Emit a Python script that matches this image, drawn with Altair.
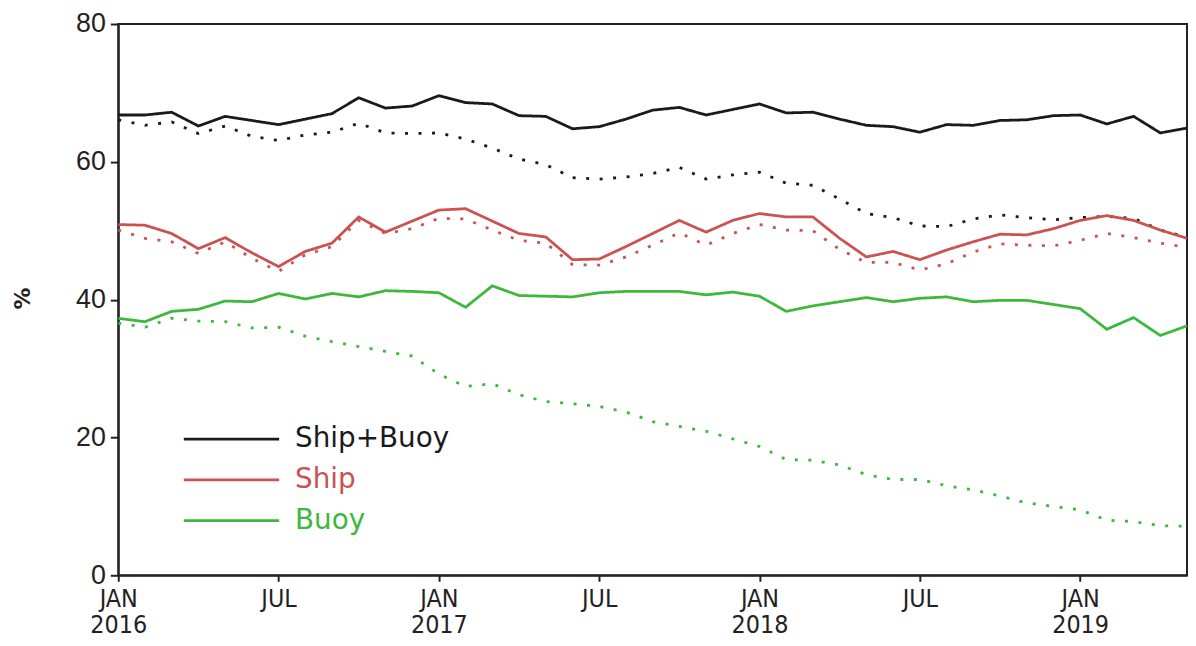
import altair as alt
import pandas as pd

# Monthly index: 0 = JAN 2016 ... 40 = MAY 2019
months = list(range(41))

series_names = ["Ship+Buoy", "Ship", "Buoy"]
series_colors = ["#1a1a1a", "#cc5252", "#3db83d"]
kinds = ["solid", "dotted"]

ship_buoy_solid = [66.8, 66.8, 67.2, 65.2, 66.6, 66.0, 65.4, 66.2, 67.0, 69.3,
                   67.8, 68.1, 69.6, 68.6, 68.4, 66.7, 66.6, 64.8, 65.1, 66.2,
                   67.5, 67.9, 66.8, 67.6, 68.4, 67.1, 67.2, 66.2, 65.3, 65.1,
                   64.3, 65.4, 65.3, 66.0, 66.1, 66.7, 66.8, 65.5, 66.6, 64.2,
                   64.9]
ship_buoy_dotted = [66.1, 65.3, 65.8, 64.1, 65.2, 63.7, 63.1, 63.9, 64.3, 65.6,
                    64.2, 64.1, 64.2, 63.3, 62.0, 60.4, 59.6, 57.7, 57.5, 57.8,
                    58.3, 59.2, 57.5, 58.1, 58.5, 56.9, 56.6, 54.6, 52.5, 51.9,
                    50.7, 50.6, 51.7, 52.3, 51.9, 51.6, 51.9, 52.1, 51.8, 50.1,
                    49.1]
ship_solid = [50.9, 50.8, 49.6, 47.4, 49.0, 46.8, 44.8, 47.0, 48.2, 52.0,
              49.8, 51.4, 53.0, 53.2, 51.4, 49.6, 49.1, 45.8, 45.9, 47.7,
              49.6, 51.5, 49.8, 51.5, 52.5, 52.0, 52.0, 48.9, 46.2, 47.0,
              45.8, 47.2, 48.4, 49.5, 49.4, 50.3, 51.5, 52.2, 51.5, 50.1,
              48.9]
ship_dotted = [50.1, 48.9, 48.4, 46.7, 48.4, 46.0, 44.1, 46.5, 47.7, 51.5,
               49.6, 50.3, 51.8, 51.7, 50.1, 48.6, 48.2, 45.1, 45.0, 46.2,
               47.9, 49.7, 47.9, 49.6, 50.9, 50.1, 50.0, 47.3, 45.4, 45.4,
               44.3, 45.2, 46.9, 48.1, 47.9, 47.8, 48.6, 49.6, 49.0, 48.2,
               47.6]
buoy_solid = [37.3, 36.8, 38.3, 38.6, 39.8, 39.7, 40.9, 40.1, 40.9, 40.4,
              41.3, 41.2, 41.0, 38.9, 42.0, 40.6, 40.5, 40.4, 41.0, 41.2,
              41.2, 41.2, 40.7, 41.1, 40.5, 38.3, 39.1, 39.7, 40.3, 39.7,
              40.2, 40.4, 39.7, 39.9, 39.9, 39.3, 38.7, 35.7, 37.4, 34.8,
              36.2]
buoy_dotted = [36.6, 36.0, 37.3, 36.9, 36.8, 35.9, 36.0, 34.7, 33.9, 33.2,
               32.5, 31.8, 29.2, 27.4, 27.8, 26.2, 25.2, 24.9, 24.5, 23.7,
               22.3, 21.6, 20.9, 19.8, 18.7, 16.8, 16.7, 16.0, 14.6, 13.9,
               13.9, 13.0, 12.4, 11.5, 10.5, 10.0, 9.5, 8.0, 7.8, 7.2,
               7.1]

y_ticks = [0, 20, 40, 60, 80]
x_ticks = [0, 6, 12, 18, 24, 30, 36]
x_tick_labels = [["JAN", "2016"], ["JUL"], ["JAN", "2017"], ["JUL"],
                 ["JAN", "2018"], ["JUL"], ["JAN", "2019"]]

table = {
    ("Ship+Buoy", "solid"): ship_buoy_solid,
    ("Ship+Buoy", "dotted"): ship_buoy_dotted,
    ("Ship", "solid"): ship_solid,
    ("Ship", "dotted"): ship_dotted,
    ("Buoy", "solid"): buoy_solid,
    ("Buoy", "dotted"): buoy_dotted,
}
rows = []
for (s, k), vals in table.items():
    for m, v in zip(months, vals):
        rows.append({"month": m, "value": v, "series": s, "kind": k,
                     "line": s + "_" + k})
df = pd.DataFrame(rows)

# label expression for x axis built from the tick label list
arr = "[" + ",".join("[" + ",".join("'" + t + "'" for t in lab) + "]"
                     for lab in x_tick_labels) + "]"
x_label_expr = arr + "[round(datum.value / 6)]"

color_expr = ("datum.label == '%s' ? '%s' : (datum.label == '%s' ? '%s' : '%s')"
              % (series_names[1], series_colors[1], series_names[2],
                 series_colors[2], series_colors[0]))

chart = alt.Chart(df).mark_line(strokeWidth=2.8, strokeCap="butt").encode(
    x=alt.X("month:Q",
            scale=alt.Scale(domain=[0, 40], nice=False, zero=False),
            axis=alt.Axis(values=x_ticks, labelExpr=x_label_expr, title=None,
                          grid=False,
                          labelFont="DejaVu Sans Condensed, Liberation Sans",
                          labelFontSize=25, labelLineHeight=27,
                          labelColor="#222222", labelPadding=5,
                          labelFlush=False, labelOverlap=False,
                          tickSize=6, tickWidth=2, tickColor="#222222",
                          domainColor="#222222", domainWidth=2)),
    y=alt.Y("value:Q",
            scale=alt.Scale(domain=[0, 80], nice=False),
            axis=alt.Axis(values=y_ticks, title="%", grid=False,
                          labelFont="Liberation Sans", labelFontSize=27,
                          labelColor="#222222", labelPadding=5,
                          labelFlush=False, labelOverlap=False,
                          tickSize=8, tickWidth=2, tickColor="#222222",
                          domainColor="#222222", domainWidth=2,
                          titleFont="DejaVu Sans", titleFontSize=22,
                          titleFontWeight="bold", titleColor="#222222",
                          titleBaseline="middle",
                          titleX=-96, titleY=276)),
    color=alt.Color("series:N",
                    scale=alt.Scale(domain=series_names, range=series_colors),
                    legend=alt.Legend(title=None, orient="none",
                                      legendX=100, legendY=404,
                                      symbolType="M-4,0H4", symbolSize=576,
                                      symbolStrokeWidth=2.8,
                                      labelFont="DejaVu Sans",
                                      labelFontSize=28, labelOffset=50,
                                      rowPadding=13, padding=0,
                                      labelColor=alt.ExprRef(color_expr))),
    strokeDash=alt.StrokeDash("kind:N",
                              scale=alt.Scale(domain=kinds,
                                              range=[[1, 0], [3, 10.6]]),
                              legend=None),
    detail="line:N",
).properties(
    width=1076, height=555,
    autosize=alt.AutoSizeParams(type="none"),
    padding={"left": 111, "top": 14, "right": 1, "bottom": 61},
).configure_view(stroke="#222222", strokeWidth=2)

chart.save("out.html", embed_options={"renderer": "svg", "actions": False})
